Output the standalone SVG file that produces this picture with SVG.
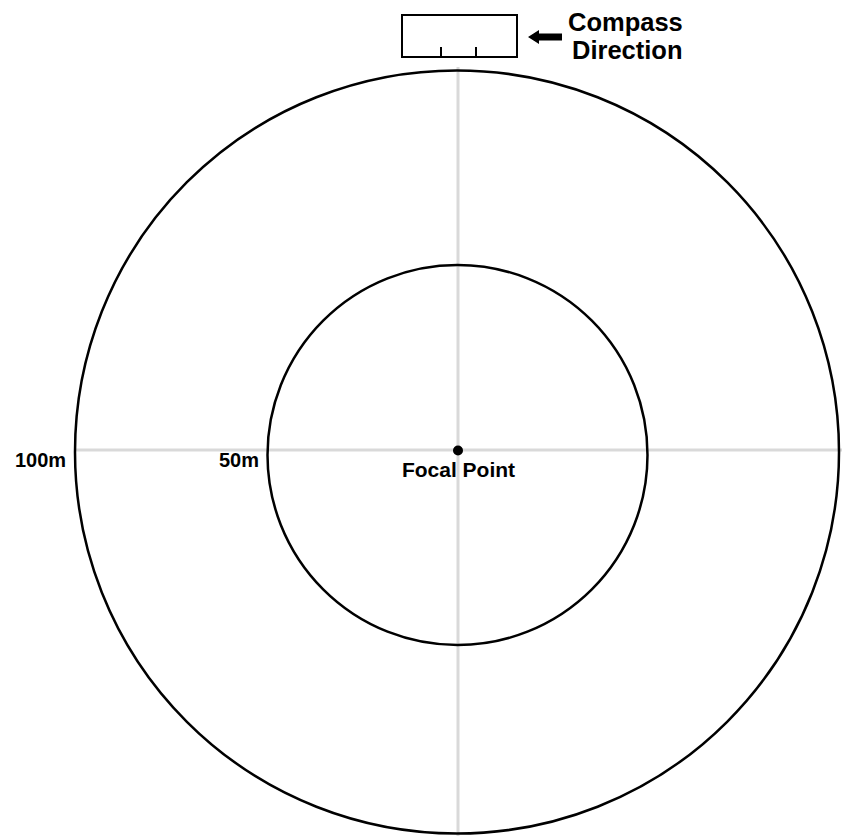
<svg xmlns="http://www.w3.org/2000/svg" width="842" height="836" viewBox="0 0 842 836">
<style>
.grid{stroke:#d9d9d9;stroke-width:3;fill:none}
.ring{stroke:#000;stroke-width:2.5;fill:none}
.lbl{font-family:"Liberation Sans",Arial,sans-serif;font-weight:bold;fill:#000}
</style>
<rect width="842" height="836" fill="#fff"/>
<g id="axes">
<line class="grid" x1="75" y1="450" x2="842" y2="450"/>
<line class="grid" x1="458" y1="67" x2="458" y2="836"/>
</g>
<g id="outer-ring">
<ellipse class="ring" cx="457" cy="452" rx="382" ry="381.5"/>
<text class="lbl" x="15" y="467" font-size="20">100m</text>
</g>
<g id="inner-ring">
<ellipse class="ring" cx="457.5" cy="455" rx="190" ry="190"/>
<text class="lbl" x="259" y="467" font-size="20" text-anchor="end">50m</text>
</g>
<g id="focal-point">
<circle cx="458" cy="450.5" r="5" fill="#000"/>
<text class="lbl" x="458.5" y="477" font-size="21" text-anchor="middle">Focal Point</text>
</g>
<g id="compass">
<rect x="402" y="15" width="115" height="42" fill="#fff" stroke="#000" stroke-width="2"/>
<line x1="441" y1="47" x2="441" y2="57" stroke="#000" stroke-width="2"/>
<line x1="476" y1="47" x2="476" y2="57" stroke="#000" stroke-width="2"/>
<polygon points="528,37 539,30 539,33.5 562,33.5 562,40.5 539,40.5 539,44" fill="#000"/>
<text class="lbl" x="568" y="31" font-size="25.5">Compass</text>
<text class="lbl" x="572" y="59" font-size="25.5">Direction</text>
</g>
</svg>
